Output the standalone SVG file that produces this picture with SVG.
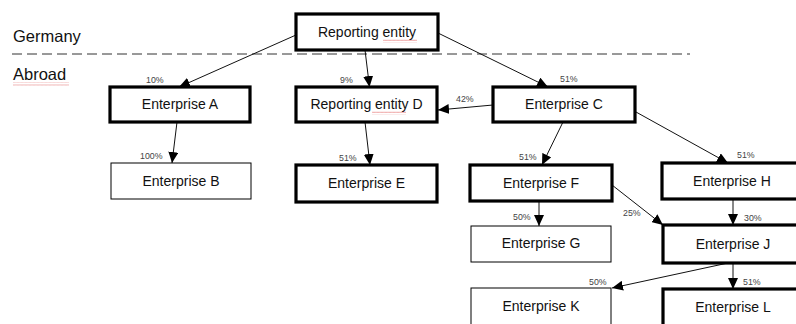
<svg xmlns="http://www.w3.org/2000/svg" width="796" height="324" viewBox="0 0 796 324">
<defs>
<marker id="ah" markerUnits="userSpaceOnUse" markerWidth="12" markerHeight="10" refX="11" refY="5" orient="auto">
<path d="M0,0 L11,5 L0,10 Z" fill="#000"/>
</marker>
<pattern id="sq" patternUnits="userSpaceOnUse" width="4" height="3">
<path d="M0,2 L1,0.5 L2,2 L3,0.5 L4,2" fill="none" stroke="#e06060" stroke-width="0.5"/>
</pattern>
</defs>
<style>
.thick{fill:#fff;stroke:#000;stroke-width:3.2}
.thin{fill:#fff;stroke:#000;stroke-width:1}
.t{font-family:"Liberation Sans",Arial,sans-serif;font-size:14px;fill:#111;text-anchor:middle}
.r{font-family:"Liberation Sans",Arial,sans-serif;font-size:16.5px;fill:#111}
.p{font-family:"Liberation Sans",Arial,sans-serif;font-size:8.8px;fill:#444}
.c{stroke:#111;stroke-width:1;fill:none;marker-end:url(#ah)}
</style>
<rect width="796" height="324" fill="#fff"/>
<g id="regions">
<text class="r" x="13" y="42">Germany</text>
<text class="r" x="13" y="80">Abroad</text>
<rect x="13" y="82.5" width="56" height="3" fill="url(#sq)"/>
<line x1="12" y1="54" x2="690" y2="54" stroke="#333" stroke-width="1" stroke-dasharray="10,5"/>
</g>
<g id="connectors">
<line class="c" x1="296" y1="35" x2="179" y2="87"/>
<line class="c" x1="365" y1="50" x2="369.5" y2="87"/>
<line class="c" x1="438" y1="33" x2="548" y2="87"/>
<line class="c" x1="493" y1="105" x2="438" y2="110"/>
<line class="c" x1="177" y1="122" x2="172" y2="163"/>
<line class="c" x1="365" y1="122" x2="370" y2="165"/>
<line class="c" x1="563" y1="122" x2="542" y2="165"/>
<line class="c" x1="636" y1="112" x2="728" y2="163"/>
<line class="c" x1="539" y1="201" x2="539" y2="226"/>
<line class="c" x1="612" y1="185" x2="663" y2="225"/>
<line class="c" x1="733" y1="199" x2="733" y2="225"/>
<line class="c" x1="728" y1="263" x2="612" y2="288"/>
<line class="c" x1="733" y1="263" x2="733" y2="289"/>
</g>
<g id="labels">
<text class="p" x="146" y="83">10%</text>
<text class="p" x="340" y="83">9%</text>
<text class="p" x="560" y="82">51%</text>
<text class="p" x="456" y="102">42%</text>
<text class="p" x="140" y="159">100%</text>
<text class="p" x="339" y="161">51%</text>
<text class="p" x="519" y="160">51%</text>
<text class="p" x="737" y="158">51%</text>
<text class="p" x="513" y="220">50%</text>
<text class="p" x="623" y="216">25%</text>
<text class="p" x="744" y="221">30%</text>
<text class="p" x="589" y="285">50%</text>
<text class="p" x="743" y="285">51%</text>
</g>
<g id="reporting-entity">
<rect class="thick" x="296" y="14" width="142" height="36"/>
<text class="t" x="367" y="37">Reporting entity</text>
<rect x="383" y="39.5" width="34" height="3" fill="url(#sq)"/>
</g>
<g id="enterprise-a">
<rect class="thick" x="110" y="87" width="140" height="35"/>
<text class="t" x="180" y="109">Enterprise A</text>
</g>
<g id="reporting-entity-d">
<rect class="thick" x="296" y="87" width="141" height="35"/>
<text class="t" x="366.5" y="109">Reporting entity D</text>
<rect x="372" y="111.5" width="34" height="3" fill="url(#sq)"/>
</g>
<g id="enterprise-c">
<rect class="thick" x="493" y="87" width="142" height="35"/>
<text class="t" x="564" y="109">Enterprise C</text>
</g>
<g id="enterprise-b">
<rect class="thin" x="111" y="163" width="140" height="36"/>
<text class="t" x="181" y="186">Enterprise B</text>
</g>
<g id="enterprise-e">
<rect class="thick" x="296" y="165" width="141" height="37"/>
<text class="t" x="366.5" y="188">Enterprise E</text>
</g>
<g id="enterprise-f">
<rect class="thick" x="470" y="165" width="142" height="36"/>
<text class="t" x="541" y="188">Enterprise F</text>
</g>
<g id="enterprise-h">
<rect class="thick" x="662" y="163" width="140" height="36"/>
<text class="t" x="732" y="186">Enterprise H</text>
</g>
<g id="enterprise-g">
<rect class="thin" x="471" y="226" width="140" height="36"/>
<text class="t" x="541" y="248">Enterprise G</text>
</g>
<g id="enterprise-j">
<rect class="thick" x="663" y="225" width="140" height="38"/>
<text class="t" x="733" y="249">Enterprise J</text>
</g>
<g id="enterprise-k">
<rect class="thin" x="471" y="288" width="140" height="42"/>
<text class="t" x="541" y="311">Enterprise K</text>
</g>
<g id="enterprise-l">
<rect class="thick" x="663" y="289" width="140" height="42"/>
<text class="t" x="733" y="312">Enterprise L</text>
</g>
</svg>
